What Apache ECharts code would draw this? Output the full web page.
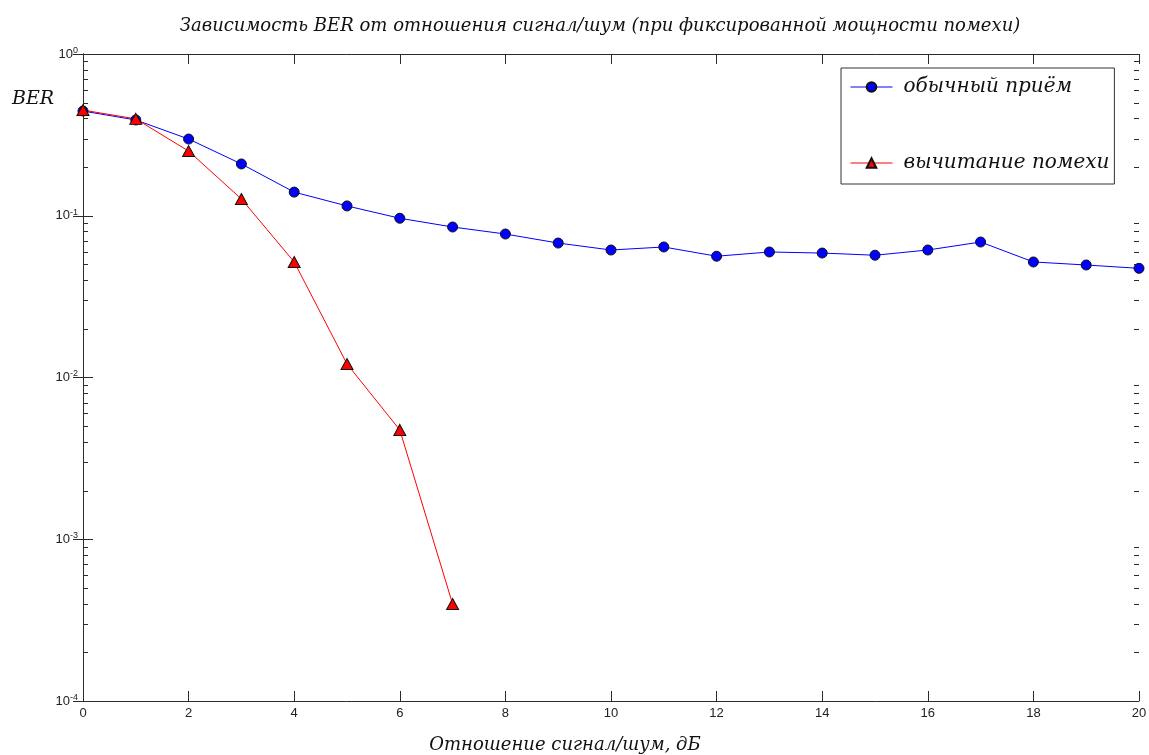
<!DOCTYPE html>
<html><head><meta charset="utf-8">
<script src="https://cdn.jsdelivr.net/npm/echarts@6/dist/echarts.min.js"></script>
<style>html,body{margin:0;padding:0;background:#fff}#c{width:1149px;height:755px}</style>
</head><body><div id="c"></div>
<script>
const snrDb = [0,1,2,3,4,5,6,7,8,9,10,11,12,13,14,15,16,17,18,19,20];
const berNormal = [0.444,0.391,0.298,0.209,0.140,0.115,0.0965,0.0852,0.0771,0.0678,0.0614,0.0641,0.0562,0.0597,0.0588,0.0570,0.0614,0.0688,0.0518,0.0496,0.0473];
const snrCancel = [0,1,2,3,4,5,6,7];
const berCancel = [0.45,0.397,0.251,0.127,0.0518,0.01212,0.00474,0.000398];
const seriesNames = ['обычный приём','вычитание помехи'];
const seriesColors = ['#0000ff','#ff0000'];
const titleText = 'Зависимость BER от отношения сигнал/шум (при фиксированной мощности помехи)';
const xName = 'Отношение сигнал/шум, дБ';
const yName = 'BER';
const minorMultipliers = [2,3,4,5,6,7,8,9];
const decades = [1e-4,1e-3,1e-2,1e-1];

const serif = "'DejaVu Serif', 'Liberation Serif', serif";
const sans = "'Liberation Sans', Arial, sans-serif";
const axisCol = '#2b2b2b';

const chart = echarts.init(document.getElementById('c'), null, {renderer:'canvas'});
const grid = {left:83, right:10, top:54, bottom:54, containLabel:false, outerBoundsMode:'none'};
const option = {
  backgroundColor:'#ffffff',
  animation:false,
  title:[
    {text:titleText, left:595, top:12, textAlign:'center',
     textStyle:{fontFamily:serif, fontStyle:'italic', fontWeight:'normal', fontSize:18, color:'#111'}},
    {text:yName, left:7, top:85,
     textStyle:{fontFamily:serif, fontStyle:'italic', fontWeight:'normal', fontSize:19, color:'#111'}}
  ],
  legend:{
    orient:'vertical', left:841, top:68,
    data:seriesNames.map((n,i)=>({name:n, lineStyle:{color:seriesColors[i], width:1}})),
    itemWidth:42, itemHeight:12, itemGap:56,
    padding:[9,5,11,9],
    borderColor:'#333', borderWidth:1, backgroundColor:'#fff',
    textStyle:{fontFamily:serif, fontStyle:'italic', fontSize:20, color:'#111', padding:[0,0,0,6]}
  },
  grid:grid,
  xAxis:[
    {type:'value', min:0, max:20, interval:2, position:'bottom',
     name:xName, nameLocation:'middle', nameGap:35,
     nameTextStyle:{fontFamily:serif, fontStyle:'italic', fontSize:18, color:'#111', padding:[0,92,0,0]},
     axisLine:{show:true, lineStyle:{color:axisCol, width:1}},
     axisTick:{show:true, inside:true, length:10, lineStyle:{color:axisCol}},
     axisLabel:{fontFamily:sans, fontSize:13, color:'#222', margin:6},
     splitLine:{show:false}},
    {type:'value', min:0, max:20, interval:2, position:'top',
     axisLine:{show:true, lineStyle:{color:axisCol, width:1}},
     axisTick:{show:true, inside:true, length:10, lineStyle:{color:axisCol}},
     axisLabel:{show:false}, splitLine:{show:false}}
  ],
  yAxis:[
    {type:'log', logBase:10, min:1e-4, max:1, interval:1, position:'left',
     axisLine:{show:true, lineStyle:{color:axisCol, width:1}},
     axisTick:{show:true, inside:true, length:10, lineStyle:{color:axisCol}},
     axisLabel:{margin:5, formatter:function(v){const e=Math.round(Math.log10(v));return '{b|10}{s|'+e+'}';},
       rich:{b:{fontFamily:sans, fontSize:13, color:'#222'}, s:{fontFamily:sans, fontSize:9, color:'#222', padding:[0,0,7,0]}}},
     splitLine:{show:false}},
    {type:'log', logBase:10, min:1e-4, max:1, interval:1, position:'right',
     axisLine:{show:true, lineStyle:{color:axisCol, width:1}},
     axisTick:{show:true, inside:true, length:10, lineStyle:{color:axisCol}},
     axisLabel:{show:false}, splitLine:{show:false}}
  ],
  series:[
    {name:seriesNames[0], type:'line', xAxisIndex:0, yAxisIndex:0,
     data:snrDb.map((x,i)=>[x,berNormal[i]]),
     symbol:'circle', symbolSize:10,
     lineStyle:{color:seriesColors[0], width:1},
     itemStyle:{color:seriesColors[0], borderColor:'#111', borderWidth:1}},
    {name:seriesNames[1], type:'line', xAxisIndex:0, yAxisIndex:0,
     data:snrCancel.map((x,i)=>[x,berCancel[i]]),
     symbol:'triangle', symbolSize:[12,11],
     lineStyle:{color:seriesColors[1], width:1},
     itemStyle:{color:seriesColors[1], borderColor:'#111', borderWidth:1}}
  ]
};
chart.setOption(option);

// minor ticks on the log axis at 2..9 x 10^k, positioned through the axis scale
const xl = chart.convertToPixel({xAxisIndex:0}, 0);
const xr = chart.convertToPixel({xAxisIndex:0}, 20);
const g = [];
decades.forEach(d => minorMultipliers.forEach(m => {
  const y = Math.round(chart.convertToPixel({yAxisIndex:0}, d*m)) + 0.5;
  g.push({type:'line', shape:{x1:xl, y1:y, x2:xl+5, y2:y}, style:{stroke:axisCol, lineWidth:1}, silent:true});
  g.push({type:'line', shape:{x1:xr-5, y1:y, x2:xr, y2:y}, style:{stroke:axisCol, lineWidth:1}, silent:true});
}));
chart.setOption({graphic:g});
</script>
</body></html>
